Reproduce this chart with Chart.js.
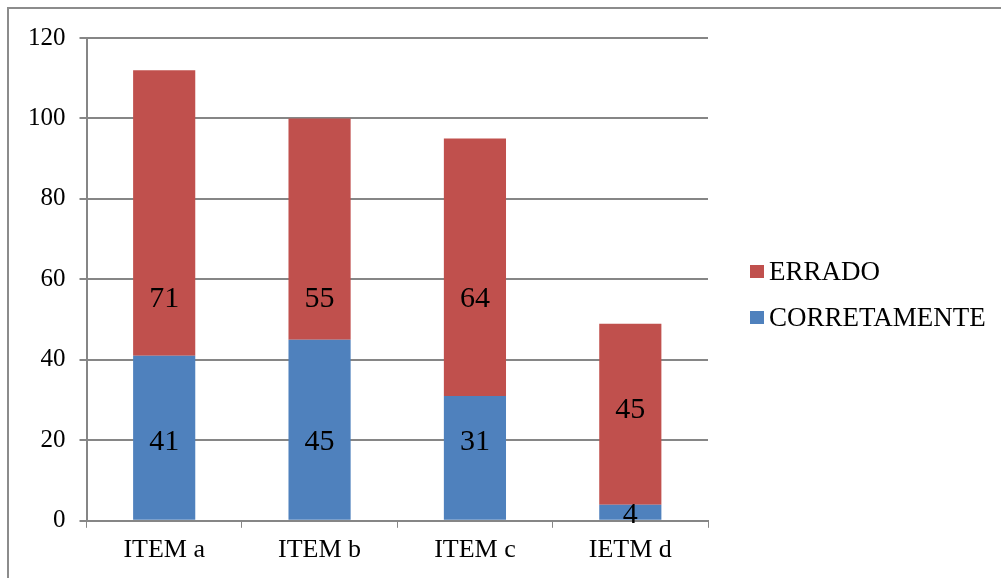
<!DOCTYPE html>
<html>
<head>
<meta charset="utf-8">
<script src="https://cdn.jsdelivr.net/npm/chart.js@4/dist/chart.umd.min.js"></script>
<style>
  html, body { margin: 0; padding: 0; background: #fff; }
  #wrap { width: 1001px; height: 578px; position: relative; }
</style>
</head>
<body>
<div id="wrap"><canvas id="grafico"></canvas></div>
<script>
// categories and values
const itens = ["ITEM a", "ITEM b", "ITEM c", "IETM d"];
const corretamente = [41, 45, 31, 4];
const errado = [71, 55, 64, 45];
const yTicks = [0, 20, 40, 60, 80, 100, 120];

const serif = "'Liberation Serif', 'Times New Roman', serif";

// outer frame of the picture
const moldura = {
  id: 'moldura',
  beforeDraw(chart) {
    const ctx = chart.ctx;
    ctx.save();
    ctx.strokeStyle = '#8c8c8c';
    ctx.lineWidth = 2;
    ctx.strokeRect(8, 8, chart.width + 20, chart.height + 20);
    ctx.restore();
  }
};

// value labels inside the bars; the original had them nudged to a common height
const rotulos = {
  id: 'rotulos',
  afterDatasetsDraw(chart) {
    const ctx = chart.ctx;
    const y = chart.scales.y;
    const alturas = [20, 55.5];
    ctx.save();
    ctx.font = "30px " + serif;
    ctx.fillStyle = '#000';
    ctx.textAlign = 'center';
    ctx.textBaseline = 'middle';
    chart.data.datasets.forEach((ds, i) => {
      const meta = chart.getDatasetMeta(i);
      meta.data.forEach((bar, j) => {
        let base = 0;
        for (let k = 0; k < i; k++) base += chart.data.datasets[k].data[j];
        const top = base + ds.data[j];
        let pos;
        if (i === 0) pos = Math.min(alturas[0], top - 2);
        else pos = Math.min(alturas[1], base + ds.data[j] / 2 + 1.5);
        ctx.fillText(ds.data[j], bar.x, y.getPixelForValue(pos) + 2);
      });
    });
    ctx.restore();
  }
};

// legend drawn by hand: small square, short gap, text
const legenda = {
  id: 'legenda',
  afterDraw(chart) {
    const ctx = chart.ctx;
    const area = chart.chartArea;
    const x = area.right + 42;
    const centro = 295;
    const passo = 46;
    const lista = chart.data.datasets.slice().reverse();
    ctx.save();
    ctx.font = "27px " + serif;
    ctx.textBaseline = 'middle';
    ctx.textAlign = 'left';
    lista.forEach((ds, i) => {
      const yc = centro - passo / 2 + i * passo;
      ctx.fillStyle = ds.backgroundColor;
      ctx.fillRect(x, yc - 7, 14, 13);
      ctx.fillStyle = '#000';
      ctx.fillText(ds.label, x + 19, yc + 1);
    });
    ctx.restore();
  }
};

new Chart(document.getElementById('grafico'), {
  type: 'bar',
  data: {
    labels: itens,
    datasets: [
      {
        label: 'CORRETAMENTE',
        data: corretamente,
        backgroundColor: '#4f81bd',
        barPercentage: 0.4,
        categoryPercentage: 1.0
      },
      {
        label: 'ERRADO',
        data: errado,
        backgroundColor: '#c0504d',
        barPercentage: 0.4,
        categoryPercentage: 1.0
      }
    ]
  },
  options: {
    responsive: true,
    maintainAspectRatio: false,
    animation: false,
    layout: { padding: { left: 14, top: 38, right: 293, bottom: 5 } },
    plugins: {
      legend: { display: false },
      tooltip: { enabled: false }
    },
    scales: {
      x: {
        stacked: true,
        grid: {
          display: true,
          drawOnChartArea: false,
          offset: true,
          color: '#868686',
          tickLength: 7
        },
        border: { color: '#868686', width: 2 },
        ticks: { color: '#000', padding: 7, font: { family: serif, size: 26 } }
      },
      y: {
        stacked: true,
        min: 0,
        max: 120,
        afterBuildTicks(axis) { axis.ticks = yTicks.map(v => ({ value: v })); },
        grid: { color: '#868686', lineWidth: 2, tickLength: 7 },
        border: { color: '#868686', width: 2 },
        ticks: { color: '#000', padding: 14, font: { family: serif, size: 25 } }
      }
    }
  },
  plugins: [moldura, rotulos, legenda]
});
</script>
</body>
</html>
